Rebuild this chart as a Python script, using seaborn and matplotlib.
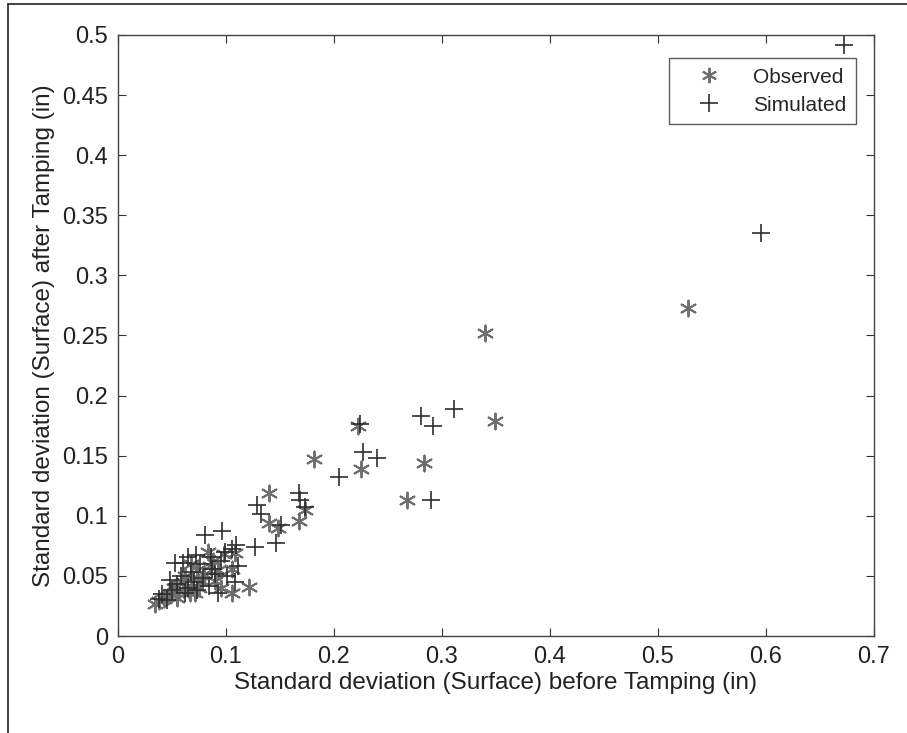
import numpy as np
import pandas as pd
import seaborn as sns
import matplotlib.pyplot as plt
from matplotlib.lines import Line2D

# Observed points (x = before tamping, y = after tamping)
obs_x = [0.528, 0.340, 0.349, 0.283, 0.268, 0.222, 0.225, 0.182, 0.140, 0.140,
         0.148, 0.173, 0.168, 0.121, 0.106, 0.106, 0.108, 0.093, 0.083, 0.034,
         0.038, 0.043, 0.049, 0.052, 0.057, 0.060, 0.064, 0.067, 0.071, 0.075,
         0.078, 0.080, 0.085, 0.088, 0.046, 0.055, 0.062, 0.069, 0.073, 0.090,
         0.095, 0.098, 0.068]
obs_y = [0.273, 0.252, 0.179, 0.144, 0.113, 0.175, 0.139, 0.147, 0.119, 0.094,
         0.090, 0.105, 0.096, 0.041, 0.036, 0.056, 0.069, 0.055, 0.070, 0.027,
         0.029, 0.031, 0.035, 0.040, 0.038, 0.045, 0.042, 0.036, 0.036, 0.040,
         0.046, 0.052, 0.058, 0.062, 0.033, 0.032, 0.050, 0.048, 0.055, 0.046,
         0.040, 0.068, 0.060]

# Simulated points
sim_x = [0.672, 0.595, 0.311, 0.281, 0.2915, 0.290, 0.224, 0.227, 0.240, 0.2046,
         0.1287, 0.1327, 0.151, 0.168, 0.169, 0.173, 0.1265, 0.146, 0.081, 0.0966,
         0.108, 0.111, 0.1096, 0.0988, 0.0926, 0.0895, 0.0864, 0.0648, 0.060, 0.0525,
         0.048, 0.041, 0.045, 0.050, 0.055, 0.058, 0.062, 0.065, 0.068, 0.070,
         0.073, 0.076, 0.079, 0.084, 0.087, 0.095, 0.101, 0.106, 0.038, 0.072]
sim_y = [0.492, 0.335, 0.189, 0.183, 0.1745, 0.113, 0.176, 0.153, 0.148, 0.132,
         0.109, 0.1015, 0.092, 0.119, 0.113, 0.107, 0.0743, 0.077, 0.084, 0.087,
         0.045, 0.058, 0.0757, 0.070, 0.0355, 0.052, 0.066, 0.066, 0.0605, 0.0605,
         0.047, 0.035, 0.030, 0.038, 0.043, 0.050, 0.036, 0.040, 0.053, 0.045,
         0.038, 0.060, 0.048, 0.042, 0.056, 0.062, 0.050, 0.072, 0.031, 0.067]

x_ticks = [0, 0.1, 0.2, 0.3, 0.4, 0.5, 0.6, 0.7]
y_ticks = [0, 0.05, 0.1, 0.15, 0.2, 0.25, 0.3, 0.35, 0.4, 0.45, 0.5]

sns.set_theme(style="ticks")
plt.rcParams['font.family'] = ['Liberation Sans', 'DejaVu Sans']
plt.rcParams['xtick.direction'] = 'in'
plt.rcParams['ytick.direction'] = 'in'

obs = pd.DataFrame({"before": obs_x, "after": obs_y})
sim = pd.DataFrame({"before": sim_x, "after": sim_y})

fig = plt.figure(figsize=(9.07, 7.33), dpi=100)
ax = fig.add_axes([0.130, 0.1323, 0.8336, 0.8200])

asterisk = (6, 2, 0)
sns.scatterplot(data=obs, x="before", y="after", marker=asterisk, s=130,
                color="#6e6e6e", linewidth=1.4, ax=ax)
sns.scatterplot(data=sim, x="before", y="after", marker="+", s=170,
                color="#2e2e2e", linewidth=1.2, ax=ax)

ax.set_xlim(0, 0.7)
ax.set_ylim(0, 0.5)
ax.set_xticks(x_ticks)
ax.set_xticklabels([f"{t:g}" for t in x_ticks])
ax.set_yticks(y_ticks)
ax.set_yticklabels([f"{t:g}" for t in y_ticks])
ax.tick_params(axis="both", which="both", direction="in", length=6, width=0.8,
               top=True, right=True, labelsize=17, colors="#333333",
               labelcolor="#222222", pad=7)
for sp in ax.spines.values():
    sp.set_color("#444444")
    sp.set_linewidth(1.0)

ax.set_xlabel("Standard deviation (Surface) before Tamping (in)", fontsize=17.5,
              color="#222222", labelpad=3)
ax.set_ylabel("Standard deviation (Surface) after Tamping (in)", fontsize=17.5,
              color="#222222", labelpad=5)

handles = [
    Line2D([], [], marker=asterisk, linestyle="none", color="#6e6e6e",
           markersize=11, markeredgewidth=1.4),
    Line2D([], [], marker="+", linestyle="none", color="#2e2e2e",
           markersize=13, markeredgewidth=1.2),
]
leg = ax.legend(handles, ["Observed", "Simulated"], loc="upper right",
                bbox_to_anchor=(0.976, 0.961), borderaxespad=0, fontsize=15,
                frameon=True, fancybox=False, edgecolor="#333333",
                handletextpad=0.6, borderpad=0.45, labelspacing=0.42,
                handlelength=3.0)
leg.get_frame().set_linewidth(1.0)

# outer frame lines (left and top) around the figure
fig.add_artist(Line2D([8 / 907, 8 / 907], [0, 1 - 4 / 733],
                      transform=fig.transFigure, color="#222222", linewidth=1.2))
fig.add_artist(Line2D([8 / 907, 1], [1 - 4 / 733, 1 - 4 / 733],
                      transform=fig.transFigure, color="#222222", linewidth=1.2))

fig.savefig("out.png", dpi=100)
